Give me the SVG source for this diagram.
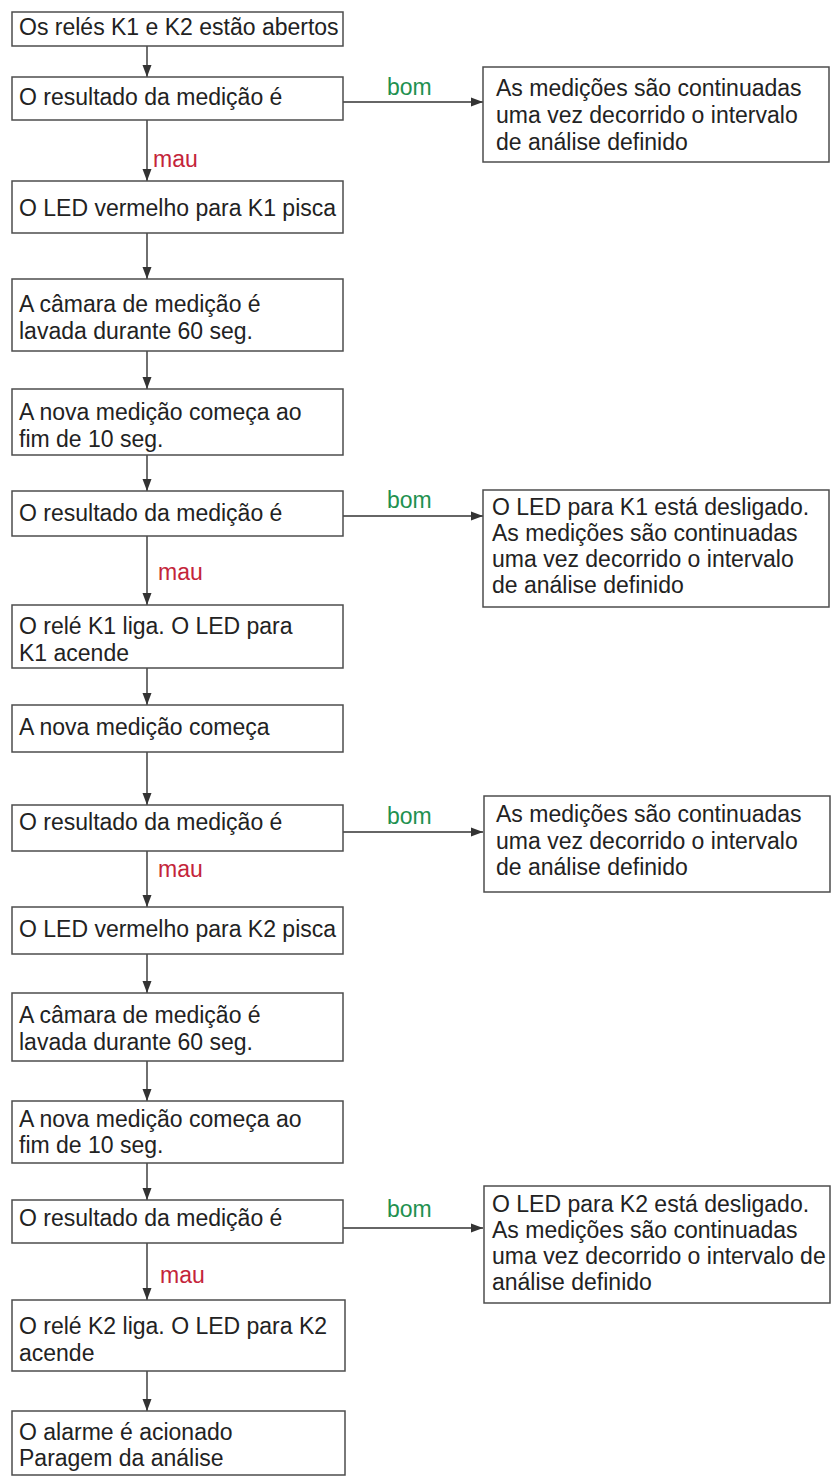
<svg xmlns="http://www.w3.org/2000/svg" width="836" height="1478" viewBox="0 0 836 1478">
<defs>
<style>
.box{fill:#fff;stroke:#4d4d4d;stroke-width:1.5}
.t{font-family:"Liberation Sans",Arial,Helvetica,sans-serif;font-size:23px;fill:#222}
.bom{font-family:"Liberation Sans",Arial,Helvetica,sans-serif;font-size:23px;fill:#1f9150}
.mau{font-family:"Liberation Sans",Arial,Helvetica,sans-serif;font-size:23px;fill:#c4243a}
.c{stroke:#333;stroke-width:1.4;fill:none;marker-end:url(#ah)}
</style>
<marker id="ah" markerUnits="userSpaceOnUse" markerWidth="12" markerHeight="10" refX="12" refY="5" orient="auto">
<path d="M0,0.5 L12,5 L0,9.5 z" fill="#333"/>
</marker>
</defs>
<rect width="836" height="1478" fill="#fff"/>

<g id="connectors">
<line class="c" x1="147" y1="46" x2="147" y2="77"/>
<line class="c" x1="343" y1="102" x2="483" y2="102"/>
<line class="c" x1="147" y1="120" x2="147" y2="181"/>
<line class="c" x1="147" y1="233" x2="147" y2="279"/>
<line class="c" x1="147" y1="351" x2="147" y2="389"/>
<line class="c" x1="147" y1="455" x2="147" y2="491"/>
<line class="c" x1="343" y1="516" x2="483" y2="516"/>
<line class="c" x1="147" y1="536" x2="147" y2="605"/>
<line class="c" x1="147" y1="668" x2="147" y2="705"/>
<line class="c" x1="147" y1="752" x2="147" y2="805"/>
<line class="c" x1="343" y1="832" x2="483" y2="832"/>
<line class="c" x1="147" y1="851" x2="147" y2="907"/>
<line class="c" x1="147" y1="954" x2="147" y2="993"/>
<line class="c" x1="147" y1="1061" x2="147" y2="1101"/>
<line class="c" x1="147" y1="1163" x2="147" y2="1200"/>
<line class="c" x1="343" y1="1228" x2="483" y2="1228"/>
<line class="c" x1="147" y1="1243" x2="147" y2="1300"/>
<line class="c" x1="147" y1="1371" x2="147" y2="1411"/>
<text class="bom" x="387" y="95">bom</text>
<text class="mau" x="153" y="167">mau</text>
<text class="bom" x="387" y="508">bom</text>
<text class="mau" x="158" y="580">mau</text>
<text class="bom" x="387" y="824">bom</text>
<text class="mau" x="158" y="877">mau</text>
<text class="bom" x="387" y="1217">bom</text>
<text class="mau" x="160" y="1283">mau</text>
</g>

<g id="n1"><rect class="box" x="12" y="12" width="331" height="34"/><text class="t" x="19" y="35">Os relés K1 e K2 estão abertos</text></g>
<g id="n2"><rect class="box" x="12" y="77" width="331" height="43"/><text class="t" x="19" y="105">O resultado da medição é</text></g>
<g id="r1"><rect class="box" x="483" y="67" width="346" height="95"/><text class="t" x="496" y="96">As medições são continuadas</text><text class="t" x="496" y="123">uma vez decorrido o intervalo</text><text class="t" x="496" y="150">de análise definido</text></g>
<g id="n3"><rect class="box" x="12" y="181" width="331" height="52"/><text class="t" x="19" y="216">O LED vermelho para K1 pisca</text></g>
<g id="n4"><rect class="box" x="12" y="279" width="331" height="72"/><text class="t" x="19" y="312">A câmara de medição é</text><text class="t" x="19" y="339">lavada durante 60 seg.</text></g>
<g id="n5"><rect class="box" x="12" y="389" width="331" height="66"/><text class="t" x="19" y="420">A nova medição começa ao</text><text class="t" x="19" y="447">fim de 10 seg.</text></g>
<g id="n6"><rect class="box" x="12" y="491" width="331" height="45"/><text class="t" x="19" y="521">O resultado da medição é</text></g>
<g id="r2"><rect class="box" x="483" y="490" width="346" height="117"/><text class="t" x="492" y="515">O LED para K1 está desligado.</text><text class="t" x="492" y="541">As medições são continuadas</text><text class="t" x="492" y="567">uma vez decorrido o intervalo</text><text class="t" x="492" y="593">de análise definido</text></g>
<g id="n7"><rect class="box" x="12" y="605" width="331" height="63"/><text class="t" x="19" y="634">O relé K1 liga. O LED para</text><text class="t" x="19" y="661">K1 acende</text></g>
<g id="n8"><rect class="box" x="12" y="705" width="331" height="47"/><text class="t" x="19" y="735">A nova medição começa</text></g>
<g id="n9"><rect class="box" x="12" y="805" width="331" height="46"/><text class="t" x="19" y="830">O resultado da medição é</text></g>
<g id="r3"><rect class="box" x="484" y="796" width="346" height="96"/><text class="t" x="496" y="822">As medições são continuadas</text><text class="t" x="496" y="849">uma vez decorrido o intervalo</text><text class="t" x="496" y="875">de análise definido</text></g>
<g id="n10"><rect class="box" x="12" y="907" width="331" height="47"/><text class="t" x="19" y="937">O LED vermelho para K2 pisca</text></g>
<g id="n11"><rect class="box" x="12" y="993" width="331" height="68"/><text class="t" x="19" y="1023">A câmara de medição é</text><text class="t" x="19" y="1050">lavada durante 60 seg.</text></g>
<g id="n12"><rect class="box" x="12" y="1101" width="331" height="62"/><text class="t" x="19" y="1127">A nova medição começa ao</text><text class="t" x="19" y="1153">fim de 10 seg.</text></g>
<g id="n13"><rect class="box" x="12" y="1200" width="331" height="43"/><text class="t" x="19" y="1226">O resultado da medição é</text></g>
<g id="r4"><rect class="box" x="484" y="1186" width="346" height="117"/><text class="t" x="492" y="1212">O LED para K2 está desligado.</text><text class="t" x="492" y="1238">As medições são continuadas</text><text class="t" x="492" y="1264">uma vez decorrido o intervalo de</text><text class="t" x="492" y="1290">análise definido</text></g>
<g id="n14"><rect class="box" x="12" y="1300" width="333" height="71"/><text class="t" x="19" y="1334">O relé K2 liga. O LED para K2</text><text class="t" x="19" y="1361">acende</text></g>
<g id="n15"><rect class="box" x="12" y="1411" width="333" height="64"/><text class="t" x="19" y="1440">O alarme é acionado</text><text class="t" x="19" y="1466">Paragem da análise</text></g>
</svg>
